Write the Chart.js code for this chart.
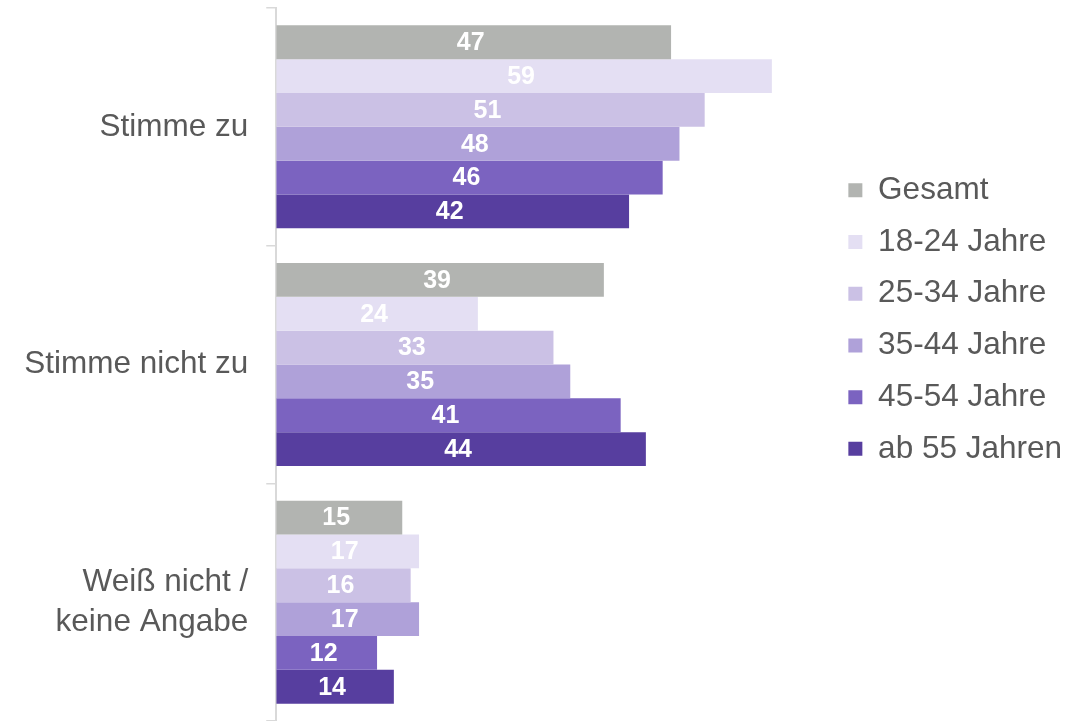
<!DOCTYPE html>
<html lang="de">
<head>
<meta charset="UTF-8">
<title>Zustimmung nach Altersgruppen</title>
<script src="https://cdn.jsdelivr.net/npm/chart.js"></script>
<style>
  html, body { margin: 0; padding: 0; background: #fff; }
  #wrap { width: 1089px; height: 721px; }
</style>
</head>
<body>
<div id="wrap"><canvas id="chart"></canvas></div>
<script>
// Daten
var kategorien = ['Stimme zu', 'Stimme nicht zu', ['Weiß nicht /', 'keine Angabe']];
var gruppen = ['Gesamt', '18-24 Jahre', '25-34 Jahre', '35-44 Jahre', '45-54 Jahre', 'ab 55 Jahren'];
var gesamt = [47, 39, 15];
var jahre1824 = [59, 24, 17];
var jahre2534 = [51, 33, 16];
var jahre3544 = [48, 35, 17];
var jahre4554 = [46, 41, 12];
var ab55 = [42, 44, 14];
var farben = ['#b2b4b1', '#e4dff3', '#cbc1e5', '#afa1d9', '#7b63c0', '#573e9f'];

var werte = [gesamt, jahre1824, jahre2534, jahre3544, jahre4554, ab55];
var schrift = '"Liberation Sans", Arial, sans-serif';

var datasets = gruppen.map(function(name, i) {
    return {
        label: name,
        data: werte[i],
        backgroundColor: farben[i],
        borderWidth: 0,
        categoryPercentage: 0.854,
        barPercentage: 1.0
    };
});

// Werte mittig in die Balken schreiben
var wertLabels = {
    id: 'wertLabels',
    afterDatasetsDraw: function(chart) {
        var ctx = chart.ctx;
        ctx.save();
        ctx.font = 'bold 25px ' + schrift;
        ctx.fillStyle = '#ffffff';
        ctx.textAlign = 'center';
        ctx.textBaseline = 'middle';
        chart.data.datasets.forEach(function(ds, i) {
            chart.getDatasetMeta(i).data.forEach(function(bar, j) {
                var x = (bar.x + bar.base) / 2 - 3;
                ctx.fillText(ds.data[j], x, bar.y + 1);
            });
        });
        ctx.restore();
    }
};

var ctx = document.getElementById('chart').getContext('2d');
var chart = new Chart(ctx, {
    type: 'bar',
    data: {
        labels: kategorien,
        datasets: datasets
    },
    options: {
        indexAxis: 'y',
        responsive: true,
        maintainAspectRatio: false,
        animation: false,
        layout: {
            padding: { top: 8, right: 17, bottom: 0, left: 11 }
        },
        scales: {
            x: {
                display: false,
                min: 0,
                max: 65.7
            },
            y: {
                afterFit: function(scale) {
                    // keine Extra-Abstände oben/unten
                    scale.paddingTop = 0;
                    scale.paddingBottom = 0;
                },
                grid: {
                    offset: true,
                    drawOnChartArea: false,
                    drawTicks: true,
                    tickLength: 10,
                    color: function(c) {
                        // unterster Strich liegt im Original ausserhalb des Bildes
                        return c.index === kategorien.length ? 'rgba(0,0,0,0)' : '#d9d9d9';
                    },
                    lineWidth: 1.5
                },
                border: { display: true, color: '#d9d9d9', width: 2 },
                ticks: {
                    color: '#595959',
                    padding: 18,
                    font: { family: schrift, size: 31.5, lineHeight: 1.27 }
                }
            }
        },
        plugins: {
            tooltip: { enabled: false },
            legend: {
                position: 'right',
                align: 'start',
                title: {
                    display: true,
                    text: '',
                    font: { size: 12 },
                    padding: { top: 132, bottom: 0 }
                },
                labels: {
                    boxWidth: 14,
                    boxHeight: 14,
                    padding: 20.2,
                    color: '#595959',
                    font: { family: schrift, size: 31.5 }
                }
            }
        }
    },
    plugins: [wertLabels]
});
</script>
</body>
</html>
